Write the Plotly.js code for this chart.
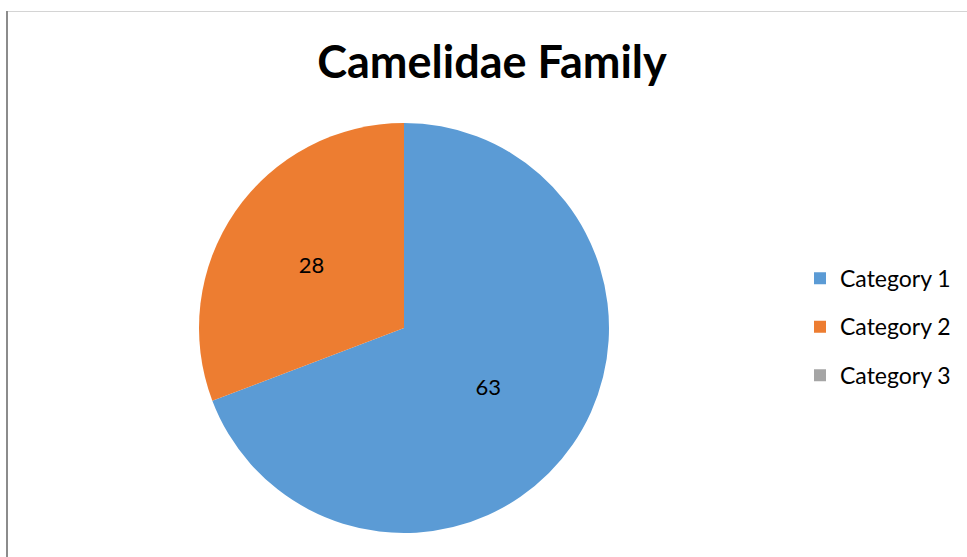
<!DOCTYPE html>
<html>
<head>
<meta charset="utf-8">
<script src="https://cdn.plot.ly/plotly-3.0.1.min.js"></script>
<style>html,body{margin:0;padding:0;background:#fff}#chart{width:967px;height:557px}</style>
</head>
<body>
<div id="chart"></div>
<script>
const categories = ["Category 1", "Category 2", "Category 3"];
const values = [63, 28, 0];
const colors = ["#5B9BD5", "#ED7D31", "#A5A5A5"];
const chartTitle = "Camelidae Family";

const W = 967, H = 557;
const cx = 404, cy = 328, r = 205;

const trace = {
  type: "pie",
  labels: categories.map(c => "<span style='font-size:23px;baseline-shift:5px'>" + c + "</span>"),
  values: values,
  sort: false,
  direction: "clockwise",
  rotation: 0,
  marker: {colors: colors, line: {width: 0}},
  textinfo: "value",
  textposition: "inside",
  insidetextorientation: "horizontal",
  textfont: {family: "Lato, 'Open Sans', sans-serif", size: 22, color: "#000"},
  domain: {x: [(cx - r) / W, (cx + r) / W], y: [(H - cy - r) / H, (H - cy + r) / H]},
  hoverinfo: "label+value+percent"
};

const layout = {
  width: W, height: H,
  margin: {l: 0, r: 0, t: 0, b: 0},
  paper_bgcolor: "#fff",
  showlegend: true,
  title: {
    text: "<b>" + chartTitle + "</b>",
    font: {family: "Lato, 'Open Sans', sans-serif", size: 45, color: "#000"},
    x: 492 / W, xanchor: "center",
    y: 1 - 62 / H, yanchor: "middle", yref: "container"
  },
  legend: {
    x: 800 / W, xanchor: "left",
    y: 1 - 249 / H, yanchor: "top",
    font: {family: "Lato, 'Open Sans', sans-serif", size: 35, color: "#000"},
    bgcolor: "rgba(0,0,0,0)"
  },
  shapes: [
    {type: "line", xref: "paper", yref: "paper", x0: 6 / W, x1: 1, y0: 1 - 11.5 / H, y1: 1 - 11.5 / H, line: {color: "#d4d4d4", width: 1}},
    {type: "line", xref: "paper", yref: "paper", x0: 7 / W, x1: 7 / W, y0: 0, y1: 1 - 11 / H, line: {color: "#8c8c8c", width: 2}}
  ]
};

Plotly.newPlot("chart", [trace], layout, {displayModeBar: false, staticPlot: true});
</script>
</body>
</html>
